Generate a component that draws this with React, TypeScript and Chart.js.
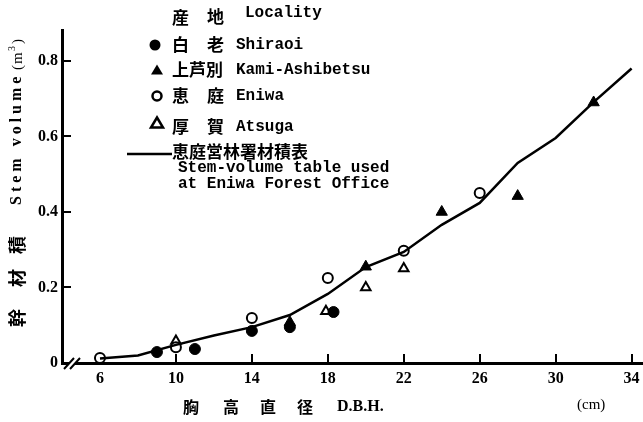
import { useEffect, useRef } from "react";
import { Chart, registerables } from "chart.js";

Chart.register(...registerables);

// Axis ticks
const dbhTicks = [6, 10, 14, 18, 22, 26, 30, 34];
const volumeTicks = [0, 0.2, 0.4, 0.6, 0.8];

// Stem-volume table of the Eniwa Forest Office (line)
const tableDbh = [6, 8, 10, 12, 14, 16, 18, 20, 22, 24, 26, 28, 30, 32, 34];
const tableVolume = [0.012, 0.02, 0.048, 0.073, 0.095, 0.127, 0.183, 0.254, 0.294, 0.366, 0.424, 0.53, 0.596, 0.691, 0.78];

// Measured stems by locality
const shiraoiDbh = [9, 11, 14, 16, 18.3];
const shiraoiVolume = [0.029, 0.037, 0.085, 0.095, 0.135];

const kamiDbh = [16, 20, 24, 28, 32];
const kamiVolume = [0.108, 0.255, 0.4, 0.442, 0.69];

const eniwaDbh = [6, 10, 14, 18, 22, 26];
const eniwaVolume = [0.013, 0.042, 0.119, 0.225, 0.297, 0.45];

const atsugaDbh = [10, 17.9, 20, 22];
const atsugaVolume = [0.058, 0.137, 0.2, 0.25];

const pts = (xs: number[], ys: number[]) => xs.map((x, i) => ({ x, y: ys[i] }));

const SERIF = "'Liberation Serif', 'DejaVu Serif', serif";
const MONO = "'Liberation Mono', 'DejaVu Sans Mono', monospace";
const CJK = "'Noto Sans CJK JP', 'Noto Sans CJK SC', sans-serif";

const decorations = {
  id: "decorations",
  beforeDatasetsDraw(chart: any) {
    const { ctx, chartArea, scales } = chart;
    ctx.save();
    ctx.strokeStyle = "#000";
    ctx.lineWidth = 2;
    ctx.beginPath();
    dbhTicks.forEach((v) => {
      const px = Math.round(scales.x.getPixelForValue(v));
      ctx.moveTo(px, chartArea.bottom);
      ctx.lineTo(px, chartArea.bottom - 9);
    });
    volumeTicks.slice(1).forEach((v) => {
      const py = Math.round(scales.y.getPixelForValue(v));
      ctx.moveTo(chartArea.left, py);
      ctx.lineTo(chartArea.left + 9, py);
    });
    ctx.stroke();
    ctx.restore();
  },
  afterDraw(chart: any) {
    const { ctx, chartArea } = chart;
    ctx.save();
    ctx.fillStyle = "#000";
    ctx.strokeStyle = "#000";

    // axis break on the DBH axis
    const by = chartArea.bottom;
    ctx.fillStyle = "#fff";
    ctx.fillRect(chartArea.left + 7, by - 3, 6, 6);
    ctx.fillStyle = "#000";
    ctx.lineWidth = 2;
    ctx.beginPath();
    [chartArea.left + 7, chartArea.left + 13].forEach((bx) => {
      ctx.moveTo(bx - 5, by + 6);
      ctx.lineTo(bx + 5, by - 5);
    });
    ctx.stroke();

    const text = (s: string, x: number, y: number, font: string, align: CanvasTextAlign = "left", spacing = "0px") => {
      ctx.font = font;
      ctx.textAlign = align;
      ctx.textBaseline = "middle";
      (ctx as any).letterSpacing = spacing;
      ctx.fillText(s, x, y);
    };

    // legend
    const jaFont = `bold 17px ${CJK}`;
    const enFont = `bold 16px ${MONO}`;
    text("産", 172, 18, jaFont);
    text("地", 207, 17, jaFont);
    text("Locality", 245, 13, enFont);

    const rows = [
      { ja: ["白", "老"], en: "Shiraoi", y: 45 },
      { ja: ["上芦別"], en: "Kami-Ashibetsu", y: 70 },
      { ja: ["恵", "庭"], en: "Eniwa", y: 96 },
      { ja: ["厚", "賀"], en: "Atsuga", y: 127 },
    ];
    rows.forEach((r) => {
      if (r.ja.length === 2) {
        text(r.ja[0], 172, r.y, jaFont);
        text(r.ja[1], 207, r.y, jaFont);
      } else {
        text(r.ja[0], 172, r.y, jaFont);
      }
      text(r.en, 236, r.y, enFont);
    });

    // legend markers
    ctx.lineWidth = 2.5;
    ctx.beginPath();
    ctx.arc(155, 45, 5.5, 0, Math.PI * 2);
    ctx.fill();
    const tri = (cx: number, cy: number, filled: boolean) => {
      ctx.beginPath();
      ctx.moveTo(cx, cy - 5.5);
      ctx.lineTo(cx + 6, cy + 4.5);
      ctx.lineTo(cx - 6, cy + 4.5);
      ctx.closePath();
      if (filled) ctx.fill();
      else ctx.stroke();
    };
    tri(157, 70, true);
    ctx.beginPath();
    ctx.arc(157, 96, 4.5, 0, Math.PI * 2);
    ctx.stroke();
    tri(157, 123, false);
    ctx.lineWidth = 2.5;
    ctx.beginPath();
    ctx.moveTo(127, 154);
    ctx.lineTo(172, 154);
    ctx.stroke();
    text("恵庭営林署材積表", 172, 152, jaFont);
    text("Stem-volume table used", 178, 168, enFont);
    text("at Eniwa Forest Office", 178, 184, enFont);

    // x-axis title
    const axJa = `bold 16px ${CJK}`;
    text("胸", 191, 407, axJa, "center");
    text("高", 231, 407, axJa, "center");
    text("直", 268, 407, axJa, "center");
    text("径", 305, 407, axJa, "center");
    text("D.B.H.", 337, 407, `bold 16px ${SERIF}`);
    text("(cm)", 577, 405, `15px ${SERIF}`);

    // y-axis title (rotated)
    ctx.translate(17, 0);
    ctx.rotate(-Math.PI / 2);
    const yJa = `bold 18px ${CJK}`;
    text("幹", -318, 0, yJa, "center");
    text("材", -278, 0, yJa, "center");
    text("積", -245, 0, yJa, "center");
    text("Stem volume", -205, 0, `bold 16px ${SERIF}`, "left", "4px");
    text("(m", -70, 1, `15px ${SERIF}`, "left", "1px");
    text("3", -51, -5, `10px ${SERIF}`);
    text(")", -44, 1, `15px ${SERIF}`);
    ctx.restore();
  },
};

export default function App() {
  const ref = useRef<HTMLCanvasElement>(null);

  useEffect(() => {
    document.body.style.margin = "0";
    const tickFont = { family: SERIF, size: 16, weight: "bold" as const };
    const chart = new Chart(ref.current!, {
      type: "scatter",
      data: {
        datasets: [
          {
            label: "恵庭営林署材積表",
            data: pts(tableDbh, tableVolume),
            showLine: true,
            borderColor: "#000",
            borderWidth: 2.5,
            pointRadius: 0,
            tension: 0,
          },
          {
            label: "白老 Shiraoi",
            data: pts(shiraoiDbh, shiraoiVolume),
            pointStyle: "circle",
            pointRadius: 5.5,
            backgroundColor: "#000",
            borderColor: "#000",
            borderWidth: 1,
          },
          {
            label: "上芦別 Kami-Ashibetsu",
            data: pts(kamiDbh, kamiVolume),
            pointStyle: "triangle",
            pointRadius: 6.5,
            backgroundColor: "#000",
            borderColor: "#000",
            borderWidth: 1,
          },
          {
            label: "恵庭 Eniwa",
            data: pts(eniwaDbh, eniwaVolume),
            pointStyle: "circle",
            pointRadius: 5,
            backgroundColor: "#fff",
            borderColor: "#000",
            borderWidth: 2,
          },
          {
            label: "厚賀 Atsuga",
            data: pts(atsugaDbh, atsugaVolume),
            pointStyle: "triangle",
            pointRadius: 5.5,
            backgroundColor: "#fff",
            borderColor: "#000",
            borderWidth: 2,
          },
        ],
      },
      options: {
        animation: false,
        responsive: false,
        devicePixelRatio: 1,
        layout: { autoPadding: false, padding: { top: 30, right: 0, left: 0, bottom: 0 } },
        plugins: { legend: { display: false }, tooltip: { enabled: false } },
        scales: {
          x: {
            type: "linear",
            min: 4,
            max: 34.6,
            afterBuildTicks: (s: any) => {
              s.ticks = dbhTicks.map((value) => ({ value }));
            },
            afterFit: (s: any) => {
              s.height = 59;
              s.paddingRight = 0;
              s.paddingLeft = 0;
            },
            grid: { drawOnChartArea: false, drawTicks: false },
            border: { display: true, color: "#000", width: 3 },
            ticks: {
              color: "#000",
              font: tickFont,
              padding: 6,
              maxRotation: 0,
              autoSkip: false,
              callback: (v: any) => String(v),
            },
          },
          y: {
            type: "linear",
            min: 0,
            max: 0.882,
            afterBuildTicks: (s: any) => {
              s.ticks = volumeTicks.map((value) => ({ value }));
            },
            afterFit: (s: any) => {
              s.width = 62;
              s.paddingTop = 0;
              s.paddingBottom = 0;
            },
            grid: { drawOnChartArea: false, drawTicks: false },
            border: { display: true, color: "#000", width: 3 },
            ticks: {
              color: "#000",
              font: tickFont,
              padding: 4,
              callback: (v: any) => (v === 0 ? "0" : Number(v).toFixed(1)),
            },
          },
        },
      },
      plugins: [decorations],
    });
    return () => chart.destroy();
  }, []);

  return (
    <div style={{ position: "fixed", left: 0, top: 0, width: 643, height: 422, background: "#fff" }}>
      <canvas ref={ref} width={643} height={422} />
    </div>
  );
}
